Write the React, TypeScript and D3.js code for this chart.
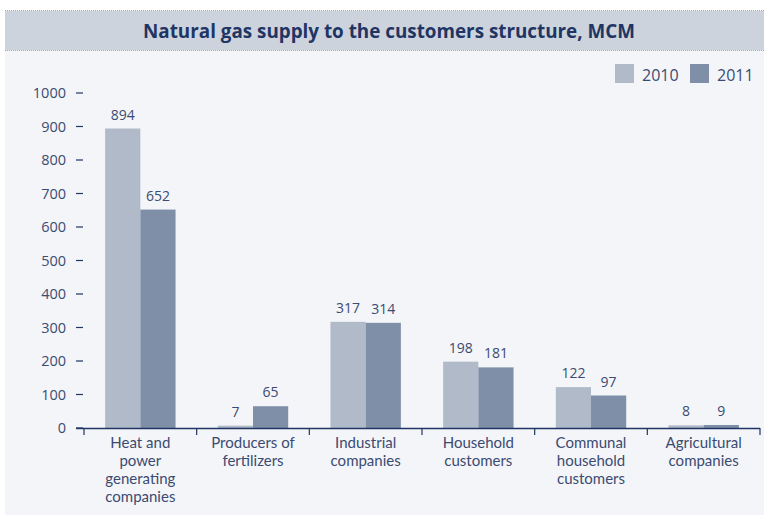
import * as d3 from 'd3'

const categories = [
  ['Heat and', 'power', 'generating', 'companies'],
  ['Producers of', 'fertilizers'],
  ['Industrial', 'companies'],
  ['Household', 'customers'],
  ['Communal', 'household', 'customers'],
  ['Agricultural', 'companies'],
]
const values2010 = [894, 7, 317, 198, 122, 8]
const values2011 = [652, 65, 314, 181, 97, 9]
const seriesNames = ['2010', '2011']
const yTicks = [0, 100, 200, 300, 400, 500, 600, 700, 800, 900, 1000]

const W = 764, H = 515
const colors = ['#b1bac9', '#7f8fa7']
const textColor = '#3b4b72'
const navy = '#1f3563'
const font = '"Open Sans", "DejaVu Sans", sans-serif'
const labelFont = 'Lato, "Open Sans", sans-serif'

export default function App() {
  const x = d3.scaleBand<number>()
    .domain(d3.range(categories.length))
    .range([84, 760])
    .paddingInner(0.375)
    .paddingOuter(0.1875)
  const step = x.step()
  const x1 = d3.scaleBand<number>().domain([0, 1]).range([0, x.bandwidth()])
  const y = d3.scaleLinear().domain([0, 1000]).range([428, 93])

  const series = [values2010, values2011]

  return (
    <svg width={W} height={H} style={{ position: 'absolute', left: 0, top: 0 }} fontFamily={font}>
      <rect x={5} y={50} width={W - 5} height={H - 50} fill="#f4f5f8" />
      {/* title band */}
      <rect x={5} y={11} width={W - 5} height={39} fill="#cdd3dd" />
      <line x1={5} x2={W} y1={10.5} y2={10.5} stroke="#9ba4b4" strokeDasharray="1,1" />
      <line x1={5} x2={W} y1={50.5} y2={50.5} stroke="#9ba4b4" strokeDasharray="1,1" />
      <text x={389} y={38} textAnchor="middle" fontSize={19} fontWeight="bold" fill={navy}
        textLength={492} lengthAdjust="spacingAndGlyphs">
        Natural gas supply to the customers structure, MCM
      </text>

      {/* legend */}
      {seriesNames.map((s, i) => (
        <g key={s} transform={`translate(${615 + i * 75},64)`}>
          <rect width={19} height={19} fill={colors[i]} />
          <text x={27} y={17} fontSize={16} fill={textColor}>{s}</text>
        </g>
      ))}

      {/* y axis */}
      {yTicks.map(t => (
        <g key={t}>
          <line x1={76} x2={83} y1={y(t)} y2={y(t)} stroke={navy} strokeWidth={1.2} />
          <text x={66} y={y(t) + 5} textAnchor="end" fontSize={14.5} fill={textColor}>{t}</text>
        </g>
      ))}

      {/* bars */}
      {categories.map((c, i) => (
        <g key={i} transform={`translate(${x(i)},0)`}>
          {series.map((vals, j) => (
            <g key={j}>
              <rect x={x1(j)} y={y(vals[i])} width={x1.bandwidth()} height={y(0) - y(vals[i])} fill={colors[j]} />
              <text x={(x1(j) ?? 0) + x1.bandwidth() / 2} y={y(vals[i]) - 9} textAnchor="middle"
                fontSize={14} fill={textColor}>{vals[i]}</text>
            </g>
          ))}
        </g>
      ))}

      {/* x axis */}
      <line x1={76} x2={760} y1={428.5} y2={428.5} stroke={navy} strokeWidth={1.5} />
      {d3.range(categories.length + 1).map(i => (
        <line key={i} x1={84 + i * step} x2={84 + i * step} y1={428} y2={435} stroke={navy} strokeWidth={1.2} />
      ))}
      {categories.map((c, i) =>
        c.map((line, k) => (
          <text key={`${i}-${k}`} x={(x(i) ?? 0) + x.bandwidth() / 2} y={448 + k * 18}
            textAnchor="middle" fontSize={15} fontFamily={labelFont} fill={textColor}>{line}</text>
        ))
      )}
    </svg>
  )
}
